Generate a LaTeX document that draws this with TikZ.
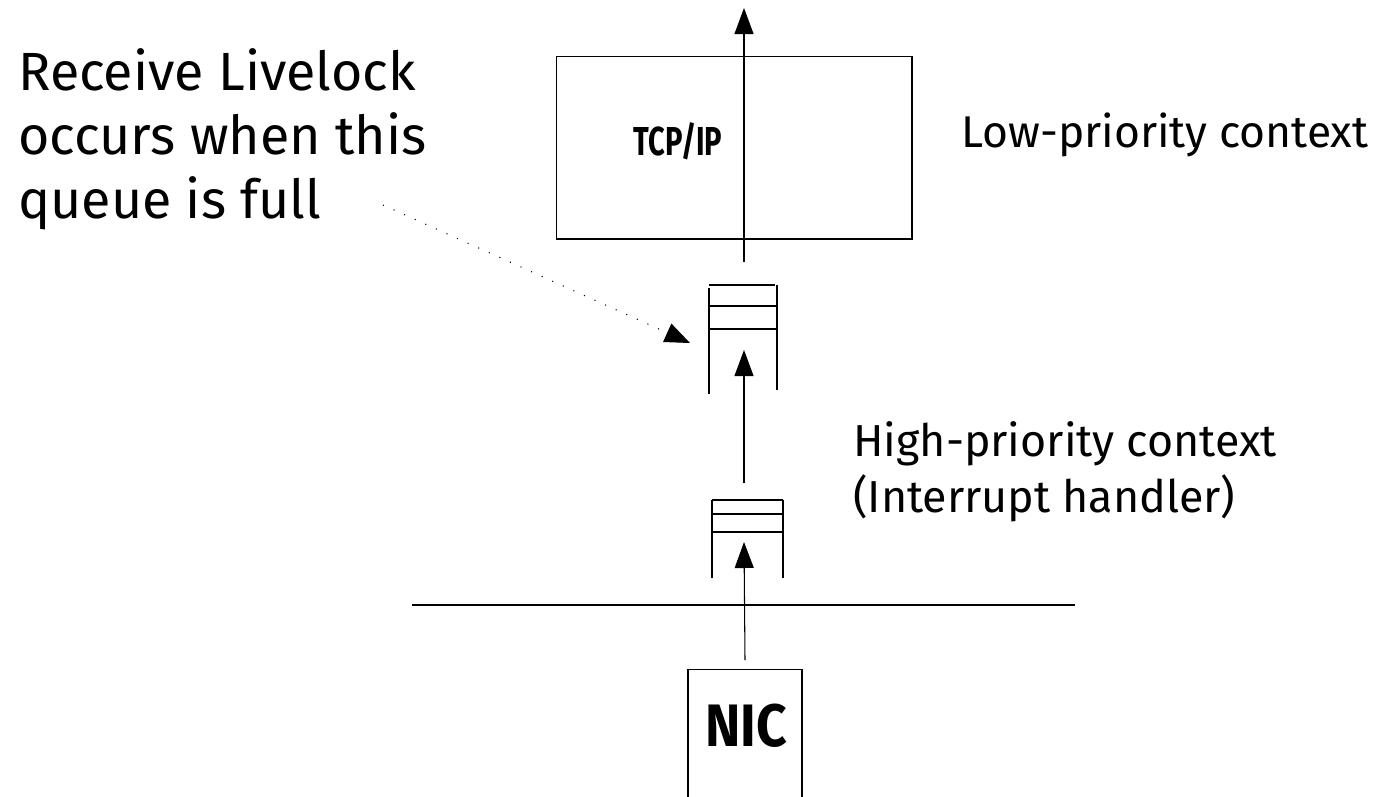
\documentclass[tikz,border=0pt]{standalone}
\usepackage{fontspec}
\setmainfont{Fira Sans}
\usetikzlibrary{arrows.meta}

\tikzset{
  box/.style={draw, line width=0.6pt, inner sep=0pt},
  flow/.style={line width=0.6pt, -{Triangle[length=0.52cm, width=0.38cm]}},
  wall/.style={line width=1.1pt},
  slot/.style={line width=0.8pt},
  caption/.style={anchor=base west, align=left, inner sep=0pt},
}

\begin{document}
\begin{tikzpicture}[x=0.02cm, y=-0.02cm]
  \useasboundingbox (0,0) rectangle (1378,796);

  % Protocol processing box
  \node[box, minimum width=7.12cm, minimum height=3.66cm] (tcpip) at (734,147.5) {};
  \node[font=\fontsize{23}{27}\selectfont\bfseries] (tcpiplabel) at (678,141) {\scalebox{0.72}[1]{TCP/IP}};

  % Upper queue (IP input queue)
  \draw[wall] (709,288) -- (709,394);
  \draw[wall] (777,285) -- (777,390);
  \draw[wall] (709,285) -- (775,285);
  \draw[slot] (709,306) -- (777,306);
  \draw[slot] (709,329) -- (777,329);

  % Lower queue (receive ring)
  \draw[wall] (712,500) -- (712,578);
  \draw[wall] (783,500) -- (783,578);
  \draw[slot] (712,500) -- (783,500);
  \draw[slot] (712,514) -- (783,514);
  \draw[wall] (712,532) -- (783,532);

  % Hardware boundary
  \draw[line width=0.6pt] (412,605) -- (1075,605);

  % Network card
  \node[box, minimum width=2.28cm, minimum height=2.7cm, anchor=north] (nic) at (745,669) {};
  \node[font=\fontsize{31}{36}\selectfont\bfseries] (niclabel) at (746,726) {\scalebox{0.98}[1.1]{NIC}};

  % Packet path
  \coordinate (ringin) at (744,542);
  \coordinate (ringout) at (744,483);
  \coordinate (queuein) at (744,350);
  \coordinate (queueout) at (744,262);
  \coordinate (upper) at (744,8);
  \draw[flow] (nic.north) ++(0,-9) -- (ringin);
  \draw[flow] (ringout) -- (queuein);
  \draw[flow] (queueout) -- (upper);

  % Labels
  \node[caption, font=\fontsize{30.6}{36.3}\selectfont] (livelock) at (18,218)
    {Receive Livelock\\occurs when this\\queue is full};
  \node[caption, font=\fontsize{25.3}{32}\selectfont] (lowctx) at (961,147) {Low-priority context};
  \node[caption, font=\fontsize{25.5}{31.75}\selectfont] (highctx) at (853,512)
    {High-priority context\\(Interrupt handler)};

  % Pointer to the full queue
  \coordinate (dotstart) at (383,205);
  \coordinate (dotend) at (690,343);
  \draw[line width=0.6pt, dash pattern=on 0.6pt off 6pt, -{Triangle[length=0.5cm, width=0.4cm]}] (dotstart) -- (dotend);
\end{tikzpicture}
\end{document}
